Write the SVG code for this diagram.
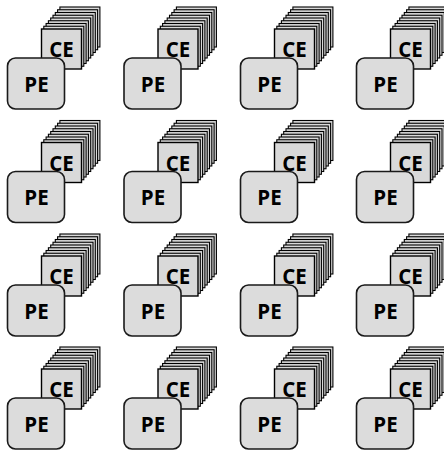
<svg xmlns="http://www.w3.org/2000/svg" xmlns:xlink="http://www.w3.org/1999/xlink" width="444" height="452" viewBox="0 0 444 452">
<style>
.ce{fill:#d9d9d9;stroke:#000;stroke-width:1.1}
.cef{fill:#d9d9d9;stroke:#000;stroke-width:1.4}
.pe{fill:#dcdcdc;stroke:#1a1a1a;stroke-width:1.6}
.t{font-family:"Open Sans","Liberation Sans",sans-serif;font-weight:bold;font-size:20.5px;fill:#000;text-anchor:middle}
</style>
<defs>
<g id="stack">
<rect class="ce" x="52.4" y="-51" width="40" height="40"/>
<rect class="ce" x="50.1" y="-48.25" width="40" height="40"/>
<rect class="ce" x="47.8" y="-45.5" width="40" height="40"/>
<rect class="ce" x="45.5" y="-42.75" width="40" height="40"/>
<rect class="ce" x="43.2" y="-40" width="40" height="40"/>
<rect class="ce" x="40.9" y="-37.25" width="40" height="40"/>
<rect class="ce" x="38.6" y="-34.5" width="40" height="40"/>
<rect class="ce" x="36.3" y="-31.75" width="40" height="40"/>
<rect class="cef" x="34" y="-29" width="40" height="40"/>
</g>
<rect id="pebox" class="pe" x="0" y="0" width="57" height="51" rx="8"/>
</defs>
<g id="connectors"/>
<g id="tile-1-1" transform="translate(7.5,58)"><g id="ce-1-1"><use xlink:href="#stack"/><text class="t" x="54" y="-1">CE</text></g><g id="pe-1-1"><use xlink:href="#pebox"/><text class="t" x="29" y="33.5">PE</text></g></g>
<g id="tile-1-2" transform="translate(124,58)"><g id="ce-1-2"><use xlink:href="#stack"/><text class="t" x="54" y="-1">CE</text></g><g id="pe-1-2"><use xlink:href="#pebox"/><text class="t" x="29" y="33.5">PE</text></g></g>
<g id="tile-1-3" transform="translate(240.5,58)"><g id="ce-1-3"><use xlink:href="#stack"/><text class="t" x="54" y="-1">CE</text></g><g id="pe-1-3"><use xlink:href="#pebox"/><text class="t" x="29" y="33.5">PE</text></g></g>
<g id="tile-1-4" transform="translate(356.5,58)"><g id="ce-1-4"><use xlink:href="#stack"/><text class="t" x="54" y="-1">CE</text></g><g id="pe-1-4"><use xlink:href="#pebox"/><text class="t" x="29" y="33.5">PE</text></g></g>
<g id="tile-2-1" transform="translate(7.5,171.5)"><g id="ce-2-1"><use xlink:href="#stack"/><text class="t" x="54" y="-1">CE</text></g><g id="pe-2-1"><use xlink:href="#pebox"/><text class="t" x="29" y="33.5">PE</text></g></g>
<g id="tile-2-2" transform="translate(124,171.5)"><g id="ce-2-2"><use xlink:href="#stack"/><text class="t" x="54" y="-1">CE</text></g><g id="pe-2-2"><use xlink:href="#pebox"/><text class="t" x="29" y="33.5">PE</text></g></g>
<g id="tile-2-3" transform="translate(240.5,171.5)"><g id="ce-2-3"><use xlink:href="#stack"/><text class="t" x="54" y="-1">CE</text></g><g id="pe-2-3"><use xlink:href="#pebox"/><text class="t" x="29" y="33.5">PE</text></g></g>
<g id="tile-2-4" transform="translate(356.5,171.5)"><g id="ce-2-4"><use xlink:href="#stack"/><text class="t" x="54" y="-1">CE</text></g><g id="pe-2-4"><use xlink:href="#pebox"/><text class="t" x="29" y="33.5">PE</text></g></g>
<g id="tile-3-1" transform="translate(7.5,285)"><g id="ce-3-1"><use xlink:href="#stack"/><text class="t" x="54" y="-1">CE</text></g><g id="pe-3-1"><use xlink:href="#pebox"/><text class="t" x="29" y="33.5">PE</text></g></g>
<g id="tile-3-2" transform="translate(124,285)"><g id="ce-3-2"><use xlink:href="#stack"/><text class="t" x="54" y="-1">CE</text></g><g id="pe-3-2"><use xlink:href="#pebox"/><text class="t" x="29" y="33.5">PE</text></g></g>
<g id="tile-3-3" transform="translate(240.5,285)"><g id="ce-3-3"><use xlink:href="#stack"/><text class="t" x="54" y="-1">CE</text></g><g id="pe-3-3"><use xlink:href="#pebox"/><text class="t" x="29" y="33.5">PE</text></g></g>
<g id="tile-3-4" transform="translate(356.5,285)"><g id="ce-3-4"><use xlink:href="#stack"/><text class="t" x="54" y="-1">CE</text></g><g id="pe-3-4"><use xlink:href="#pebox"/><text class="t" x="29" y="33.5">PE</text></g></g>
<g id="tile-4-1" transform="translate(7.5,398)"><g id="ce-4-1"><use xlink:href="#stack"/><text class="t" x="54" y="-1">CE</text></g><g id="pe-4-1"><use xlink:href="#pebox"/><text class="t" x="29" y="33.5">PE</text></g></g>
<g id="tile-4-2" transform="translate(124,398)"><g id="ce-4-2"><use xlink:href="#stack"/><text class="t" x="54" y="-1">CE</text></g><g id="pe-4-2"><use xlink:href="#pebox"/><text class="t" x="29" y="33.5">PE</text></g></g>
<g id="tile-4-3" transform="translate(240.5,398)"><g id="ce-4-3"><use xlink:href="#stack"/><text class="t" x="54" y="-1">CE</text></g><g id="pe-4-3"><use xlink:href="#pebox"/><text class="t" x="29" y="33.5">PE</text></g></g>
<g id="tile-4-4" transform="translate(356.5,398)"><g id="ce-4-4"><use xlink:href="#stack"/><text class="t" x="54" y="-1">CE</text></g><g id="pe-4-4"><use xlink:href="#pebox"/><text class="t" x="29" y="33.5">PE</text></g></g>
</svg>
